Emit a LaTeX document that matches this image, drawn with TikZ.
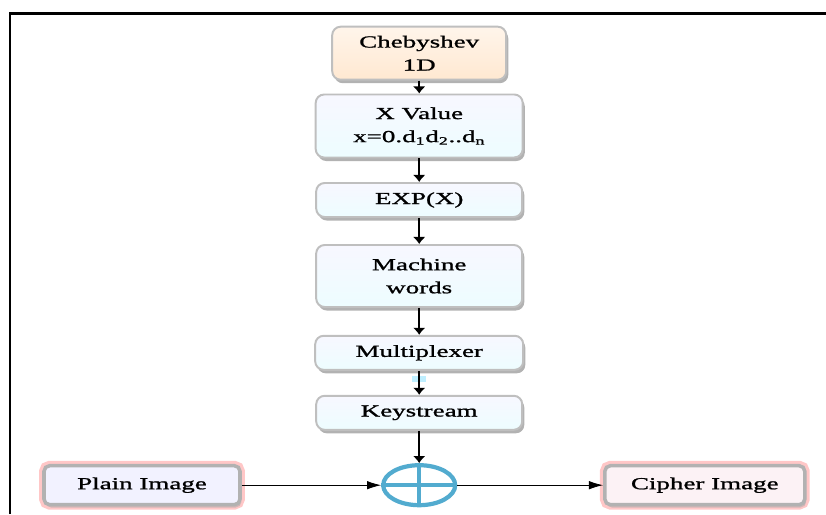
\documentclass[tikz,border=0pt]{standalone}
\usepackage{fontspec}
\setmainfont{Liberation Serif}[FakeStretch=1.6,FakeBold=1.2]
\usepackage{tikz}
\usetikzlibrary{arrows,arrows.meta,shadows,shapes.geometric}

\begin{document}
\begin{tikzpicture}[>=latex, font=\fontsize{12}{16.4}\selectfont,
	blocco/.style={draw=gray!50, line width=1.4pt, rounded corners=6pt, align=center, inner sep=0pt,
		top color=blue!3, bottom color=blue!12!cyan!7, minimum width=5.15cm,
		drop shadow={shadow xshift=1.5pt, shadow yshift=-2.5pt, fill=gray!75, opacity=0.8}},
	immagine/.style={draw=gray!60, line width=2.5pt, rounded corners=4pt, inner sep=0pt,
		minimum width=4.9cm, minimum height=0.975cm, preaction={draw=red!22, line width=7pt},
		drop shadow={shadow xshift=1pt, shadow yshift=-2pt, fill=gray!70}},
	giu/.style={-{Latex[length=5pt,width=9pt]}, line width=1.1pt},
	destra/.style={-{Latex[length=10pt,width=6pt]}, line width=0.6pt}]
%	\draw [help lines] (0,0) grid (20,12);
	\useasboundingbox (0,0) rectangle (20.65,12.85);
	%cornice
	\draw [line width=2pt] (0.25,0) -- (0.25,12.52) -- (20.65,12.52);
	%colonna centrale
	\node [blocco, minimum width=4.35cm, minimum height=1.325cm, top color=orange!8, bottom color=orange!18] (cheb) at (10.48,11.52) {Chebyshev\\1D};
	\node [blocco, minimum width=5.175cm, minimum height=1.575cm] (xval) at (10.48,9.70) {X Value\\x=0.d\textsubscript{1}d\textsubscript{2}..d\textsubscript{n}};
	\node [blocco, minimum height=0.85cm] (exp) at (10.48,7.85) {EXP(X)};
	\node [blocco, minimum height=1.55cm] (words) at (10.48,5.95) {Machine\\words};
	\node [blocco, minimum width=5.2cm, minimum height=0.85cm] (mux) at (10.48,4.03) {Multiplexer};
	\node [blocco, minimum height=0.85cm] (key) at (10.48,2.53) {Keystream};
	\draw [giu] (cheb) -- (xval);
	\draw [giu] (xval) -- (exp);
	\draw [giu] (exp) -- (words);
	\draw [giu] (words) -- (mux);
	\fill [blue!25!cyan!25] ([xshift=-0.17cm,yshift=-0.12cm]mux.south) rectangle ++(0.34,-0.15);
	\draw [giu] (mux) -- (key);
	%xor
	\node [ellipse, draw=cyan!55!teal!80, line width=3pt, minimum width=1.8cm, minimum height=1.0cm] (xor) at (10.48,0.72) {};
	\draw [cyan!55!teal!80, line width=3pt] (xor.north) -- (xor.south);
	\draw [cyan!55!teal!80, line width=3pt] (xor.west) -- (xor.east);
	\draw [giu] (key) -- (xor);
	%ingresso e uscita
	\node [immagine, fill=blue!5] (plain) at (3.55,0.72) {Plain Image};
	\node [immagine, minimum width=5.0cm, fill=purple!5] (cipher) at (17.62,0.72) {Cipher Image};
	\draw [destra] (plain) -- (xor);
	\draw [destra] (xor) -- (cipher);
\end{tikzpicture}
\end{document}
